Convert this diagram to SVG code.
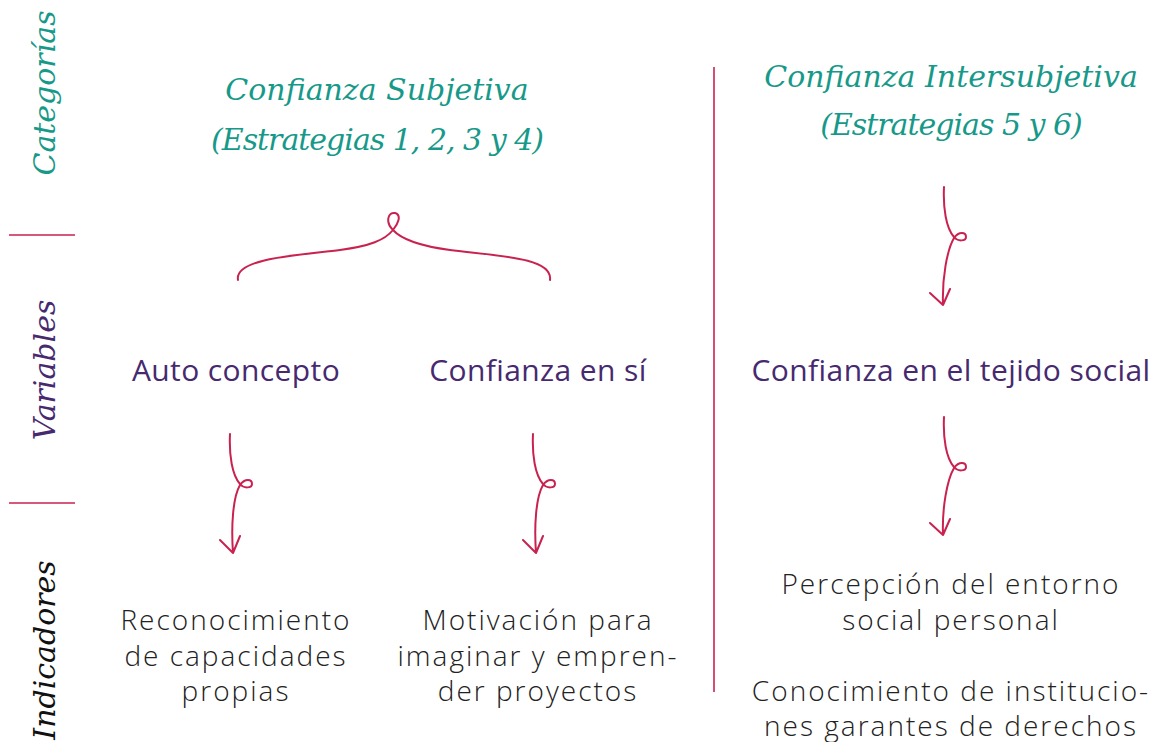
<svg xmlns="http://www.w3.org/2000/svg" width="1154" height="742" viewBox="0 0 1154 742">
<style>
.cat{font-family:"DejaVu Serif","Liberation Serif",serif;font-style:italic;fill:#17998a;font-size:30px;text-anchor:middle}
.cat2{letter-spacing:-1px}
.side{font-family:"DejaVu Serif","Liberation Serif",serif;font-style:italic;font-size:30px;text-anchor:middle}
.var{font-family:"Open Sans","Noto Sans",sans-serif;font-weight:500;fill:#46296f;font-size:30px;letter-spacing:0.4px;text-anchor:middle}
.ind{font-family:"Open Sans","Noto Sans",sans-serif;font-weight:300;fill:#222;font-size:28px;letter-spacing:2px;text-anchor:middle}
.ln{stroke:#c9224f;stroke-width:1.6;fill:none}
.arr{stroke:#c9224f;stroke-width:2;fill:none;stroke-linecap:round;stroke-linejoin:round}
</style>
<rect width="1154" height="742" fill="#fff"/>
<g id="side-labels">
<text class="side" fill="#17998a" transform="translate(55,93) rotate(-90)">Categorías</text>
<text class="side" fill="#46296f" transform="translate(55,370) rotate(-90)">Variables</text>
<text class="side" fill="#111" transform="translate(55,650) rotate(-90)">Indicadores</text>
<line class="ln" x1="9" y1="235" x2="75" y2="235"/>
<line class="ln" x1="9" y1="503" x2="75" y2="503"/>
<line class="ln" x1="714" y1="67" x2="714" y2="692"/>
</g>
<g id="cat-subjetiva">
<text class="cat" x="377" y="100">Confianza Subjetiva</text>
<text class="cat cat2" x="377" y="150">(Estrategias 1, 2, 3 y 4)</text>
</g>
<g id="cat-intersubjetiva">
<text class="cat" x="951" y="87">Confianza Intersubjetiva</text>
<text class="cat cat2" x="951" y="135">(Estrategias 5 y 6)</text>
</g>
<g id="var-auto"><text class="var" x="236" y="381">Auto concepto</text></g>
<g id="var-confianza"><text class="var" x="538" y="381">Confianza en sí</text></g>
<g id="var-tejido"><text class="var" x="951" y="381">Confianza en el tejido social</text></g>
<g id="ind-reconocimiento">
<text class="ind" x="236" y="630">Reconocimiento</text>
<text class="ind" x="236" y="666">de capacidades</text>
<text class="ind" x="236" y="701">propias</text>
</g>
<g id="ind-motivacion">
<text class="ind" x="538" y="630">Motivación para</text>
<text class="ind" x="538" y="666">imaginar y empren-</text>
<text class="ind" x="538" y="701">der proyectos</text>
</g>
<g id="ind-percepcion">
<text class="ind" x="951" y="594">Percepción del entorno</text>
<text class="ind" x="951" y="630">social personal</text>
</g>
<g id="ind-conocimiento">
<text class="ind" x="951" y="701">Conocimiento de institucio-</text>
<text class="ind" x="951" y="736">nes garantes de derechos</text>
</g>
<g id="connectors">
<path class="arr" d="M238,280 C234,258 300,255 340,250 C370,246 385,240 393,230 C398,224 402,215 395,213 C388,212 385,222 393,230 C402,240 420,246 450,250 C500,256 553,258 550,280"/>
<g>
<path class="arr" d="M230,434 C229,455 232,475 240,484 C244,489 252,488 252,484 C252,479 245,478 240,485 C233,497 231,525 233,553 M220,540 L233,553 L240,536"/>
</g>
<g transform="translate(303,0)">
<path class="arr" d="M230,434 C229,455 232,475 240,484 C244,489 252,488 252,484 C252,479 245,478 240,485 C233,497 231,525 233,553 M220,540 L233,553 L240,536"/>
</g>
<g transform="translate(714,-247)">
<path class="arr" d="M230,434 C229,455 232,475 240,484 C244,489 252,488 252,484 C252,479 245,478 240,485 C233,497 228,525 229,552 M216,540 L229,552 L236,536"/>
</g>
<g transform="translate(714,-17)">
<path class="arr" d="M230,434 C229,455 232,475 240,484 C244,489 252,488 252,484 C252,479 245,478 240,485 C233,497 228,525 229,552 M216,540 L229,552 L236,536"/>
</g>
</g>
</svg>
